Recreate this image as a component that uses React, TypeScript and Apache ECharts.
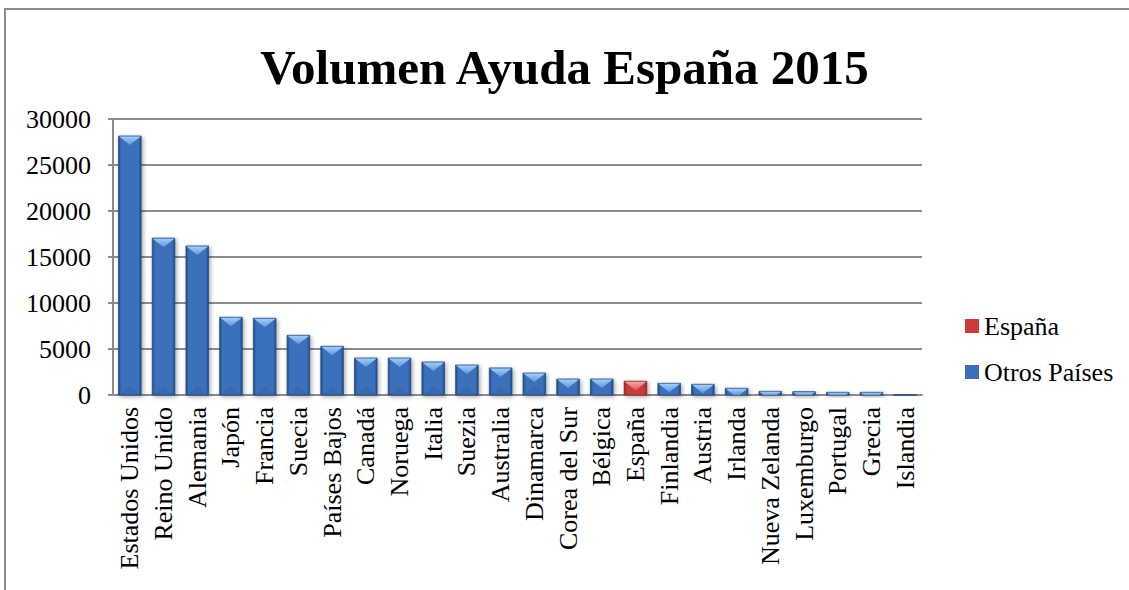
import React, { useEffect, useRef } from "react";
import * as echarts from "echarts";

const categories = [
  "Estados Unidos", "Reino Unido", "Alemania", "Japón", "Francia", "Suecia",
  "Países Bajos", "Canadá", "Noruega", "Italia", "Suezia", "Australia",
  "Dinamarca", "Corea del Sur", "Bélgica", "España", "Finlandia", "Austria",
  "Irlanda", "Nueva Zelanda", "Luxemburgo", "Portugal", "Grecia", "Islandia",
];
const values = [
  28150, 17050, 16200, 8450, 8340, 6490,
  5290, 4020, 4020, 3590, 3260, 2940,
  2390, 1740, 1740, 1500, 1270, 1160,
  730, 400, 360, 290, 290, 30,
];
const highlighted = "España";
const yTicks = [0, 5000, 10000, 15000, 20000, 25000, 30000];
const titleText = "Volumen Ayuda España 2015";
const legendNames = ["España", "Otros Países"];

const FONT = "Liberation Serif";

const palettes: Record<string, { edge: string; mid: string; top1: string; top2: string; legend: string }> = {
  blue: { edge: "#234a85", mid: "#3a6fbb", top1: "#a3cdf8", top2: "#5e97de", legend: "#3a6fbb" },
  red: { edge: "#922424", mid: "#cc3a3a", top1: "#f7a4a4", top2: "#e25c5c", legend: "#cc3a3a" },
};

function makeRender(pal: { edge: string; mid: string; top1: string; top2: string }) {
  return (params: any, api: any) => {
    const idx = api.value(0);
    const val = api.value(1);
    if (val == null || isNaN(val)) return null;
    const top = api.coord([idx, val]);
    const base = api.coord([idx, 0]);
    const bw = api.size([1, 0])[0] * 0.67;
    const x0 = top[0] - bw / 2;
    const x1 = top[0] + bw / 2;
    const h = Math.max(base[1] - top[1], 0.5);
    const dFull = 9;
    const d = Math.min(dFull, h);
    const r = d / dFull;
    const bodyFill = new echarts.graphic.LinearGradient(0, 0, 1, 0, [
      { offset: 0, color: pal.edge },
      { offset: 0.12, color: pal.mid },
      { offset: 0.88, color: pal.mid },
      { offset: 1, color: pal.edge },
    ]);
    const topFill = new echarts.graphic.LinearGradient(0, 0, 0, 1, [
      { offset: 0, color: pal.top1 },
      { offset: 1, color: pal.top2 },
    ]);
    const children: any[] = [
      {
        type: "rect",
        shape: { x: x0, y: top[1], width: bw, height: h },
        style: {
          fill: bodyFill,
          stroke: pal.edge,
          lineWidth: 0.8,
          shadowBlur: 4,
          shadowColor: "rgba(0,0,0,0.35)",
          shadowOffsetX: 1.5,
          shadowOffsetY: 1.5,
        },
      },
      {
        type: "polygon",
        shape: {
          points: [
            [x0 + 0.5, top[1] + 0.5],
            [x1 - 0.5, top[1] + 0.5],
            [x1 - (bw / 2) * r, top[1] + d],
            [x0 + (bw / 2) * r, top[1] + d],
          ],
        },
        style: { fill: topFill },
      },
    ];
    if (h > 2 * dFull) {
      children.push({
        type: "polygon",
        shape: {
          points: [
            [x0 + 1, base[1]],
            [x1 - 1, base[1]],
            [top[0], base[1] - dFull],
          ],
        },
        style: { fill: "rgba(0,0,0,0.06)" },
      });
    }
    return { type: "group", children };
  };
}

const css = `.chart-root svg text { font-family: 'Liberation Serif', 'Times New Roman', serif !important; }`;

export default function App() {
  const ref = useRef<HTMLDivElement>(null);
  useEffect(() => {
    if (!ref.current) return;
    const chart = echarts.init(ref.current, null, { renderer: "svg" });
    const spainData: any[] = [];
    const otherData: any[] = [];
    categories.forEach((c, i) => {
      if (c === highlighted) spainData.push([i, values[i]]);
      else otherData.push([i, values[i]]);
    });
    chart.setOption({
      animation: false,
      backgroundColor: "#ffffff",
      textStyle: { fontFamily: FONT },
      title: {
        text: titleText,
        left: "center",
        top: 38,
        textStyle: { fontFamily: FONT, fontSize: 49, fontWeight: "bold", color: "#000" },
      },
      graphic: [
        {
          type: "rect",
          shape: { x: 5, y: 9, width: 1300, height: 800 },
          style: { fill: "none", stroke: "#8c8c8c", lineWidth: 2 },
          silent: true,
        },
      ],
      legend: {
        orient: "vertical",
        left: 960,
        top: 308,
        itemGap: 20,
        itemWidth: 14,
        itemHeight: 14,
        icon: "rect",
        data: legendNames,
        textStyle: { fontFamily: FONT, fontSize: 26, color: "#000", lineHeight: 26 },
      },
      grid: { left: 113, right: 207, top: 119, bottom: 195, containLabel: false },
      xAxis: {
        type: "category",
        data: categories,
        boundaryGap: true,
        axisLine: { show: true, lineStyle: { color: "#8c8c8c", width: 2 } },
        axisTick: { show: false },
        axisLabel: {
          interval: 0,
          rotate: 90,
          margin: 12,
          fontFamily: FONT,
          fontSize: 26,
          color: "#000",
        },
      },
      yAxis: {
        type: "value",
        min: 0,
        max: 30000,
        interval: 5000,
        axisLine: { show: true, lineStyle: { color: "#8c8c8c", width: 2 } },
        axisTick: { show: true, length: 5, lineStyle: { color: "#8c8c8c", width: 2 } },
        splitLine: { show: true, lineStyle: { color: "#8c8c8c", width: 2 } },
        axisLabel: {
          margin: 22,
          fontFamily: FONT,
          fontSize: 26,
          color: "#000",
          formatter: (v: number) => (yTicks.includes(v) ? String(v) : ""),
        },
      },
      series: [
        {
          name: "España",
          type: "custom",
          renderItem: makeRender(palettes.red),
          encode: { x: 0, y: 1 },
          data: spainData,
          itemStyle: { color: palettes.red.legend },
          z: 3,
        },
        {
          name: "Otros Países",
          type: "custom",
          renderItem: makeRender(palettes.blue),
          encode: { x: 0, y: 1 },
          data: otherData,
          itemStyle: { color: palettes.blue.legend },
          z: 3,
        },
      ],
    });
    return () => chart.dispose();
  }, []);
  return (
    <>
      <style>{css}</style>
      <div
        ref={ref}
        className="chart-root"
        style={{ position: "fixed", left: 0, top: 0, width: 1129, height: 590 }}
      />
    </>
  );
}
